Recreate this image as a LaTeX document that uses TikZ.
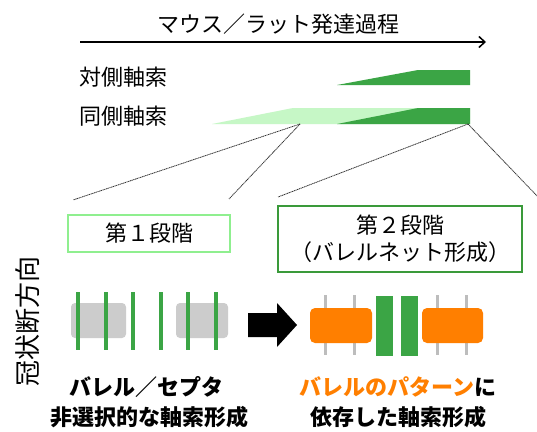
\documentclass[tikz,border=0pt]{standalone}
\usepackage{fontspec}
\setmainfont{Noto Sans CJK JP}
\usetikzlibrary{arrows.meta}
\definecolor{dkgreen}{HTML}{3BA545}
\definecolor{ltgreen}{HTML}{C6F7C6}
\definecolor{boxlt}{HTML}{8FEF8F}
\definecolor{boxdk}{HTML}{3A9A3A}
\definecolor{orng}{HTML}{FF7F00}
\definecolor{gry}{HTML}{CCCCCC}
\definecolor{gryline}{HTML}{BDBDBD}
\tikzset{
  lbl/.style={inner sep=0pt, font=\fontsize{22}{25}\selectfont},
  blbl/.style={inner sep=0pt, font=\fontsize{22}{25}\selectfont\bfseries},
  timearrow/.style={line width=1.5pt, -{Straight Barb[length=6pt,width=11pt,line width=1.5pt]}},
  zoomline/.style={line width=0.8pt, black!80, dash pattern=on 1.2pt off 0.6pt},
  stageone/.style={draw=boxlt, line width=2pt, inner sep=0pt, font=\fontsize{22}{25}\selectfont},
  stagetwo/.style={draw=boxdk, line width=2pt, inner sep=0pt, align=center, font=\fontsize{22}{27}\selectfont},
  greenbar/.style={dkgreen, line width=3.5pt},
  greybar/.style={gryline, line width=3pt},
}
\begin{document}
\begin{tikzpicture}[x=1pt,y=-1pt]
\useasboundingbox (0,0) rectangle (537,431);
\fill[white] (0,0) rectangle (537,431);

% title and time arrow
\node[lbl] (title) at (278,24) {マウス／ラット発達過程};
\coordinate (tl) at (80,42);
\coordinate (tr) at (486,42);
\draw[timearrow] (tl) -- (tr);

% axon labels
\node[lbl, anchor=west] (contra) at (79,77) {対側軸索};
\node[lbl, anchor=west] (ipsi) at (79,116) {同側軸索};

% wedges
\fill[dkgreen] (337,85) -- (418,70) -- (470,70) -- (470,85) -- cycle;
\fill[ltgreen] (212,124) -- (293,108) -- (470,108) -- (470,124) -- cycle;
\fill[dkgreen] (337,124) -- (418,108) -- (470,108) -- (470,124) -- cycle;

% stage boxes
\node[stageone, minimum width=162, minimum height=37] (s1) at (149,233.5) {第１段階};
\node[stagetwo, minimum width=244, minimum height=66] (s2) at (400,239) {第２段階\\（バレルネット形成）};

% zoom lines
\coordinate (pA) at (300,124);
\coordinate (pB) at (468,124);
\coordinate (a1) at (73,200);
\coordinate (a2) at (229,199);
\coordinate (b1) at (278,197);
\coordinate (b2) at (540,199);
\draw[zoomline] (pA) -- (a1);
\draw[zoomline] (pA) -- (a2);
\draw[zoomline] (pB) -- (b1);
\draw[zoomline] (pB) -- (b2);

% vertical label
\node[inner sep=0pt, rotate=90, font=\fontsize{26}{28}\selectfont] (coronal) at (28,321) {冠状断方向};

% left panel
\fill[gry, rounded corners=4pt] (71,303) rectangle (126,338);
\fill[gry, rounded corners=4pt] (176,303) rectangle (228,338);
\foreach \x in {78,106,133,161,188,216} {
  \draw[greenbar] (\x,292) -- (\x,350);
}

% block arrow
\fill[black] (248,313) -- (277,313) -- (277,303) -- (297,325) -- (277,347) -- (277,337) -- (248,337) -- cycle;

% right panel
\foreach \x in {325,354,437,466} {
  \draw[greybar] (\x,295) -- (\x,355);
}
\fill[orng, rounded corners=5pt] (310,308) rectangle (372,343);
\fill[orng, rounded corners=5pt] (422,308) rectangle (483,343);
\fill[dkgreen] (376,296) rectangle (393,356);
\fill[dkgreen] (401,296) rectangle (418,356);

% bottom texts
\node[blbl] (l1) at (146,387) {バレル／セプタ};
\node[blbl] (l2) at (149,417) {非選択的な軸索形成};
\node[blbl] (r1) at (398,387) {\textcolor{orng}{バレルのパターン}に};
\node[blbl] (r2) at (398,417) {依存した軸索形成};
\end{tikzpicture}
\end{document}
